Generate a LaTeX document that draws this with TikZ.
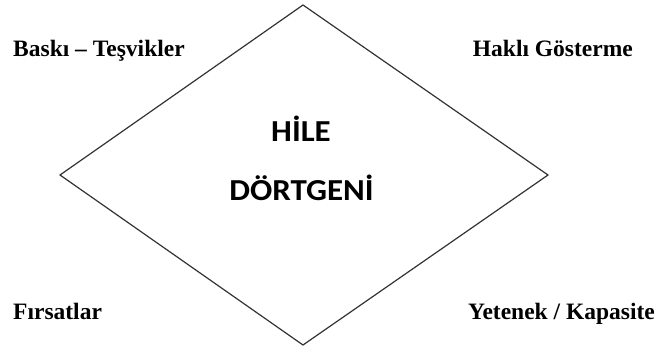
\documentclass[tikz,border=0pt]{standalone}
\usepackage{fontspec}
\setmainfont{Liberation Serif}
\newfontfamily\carlito[FakeStretch=1.08]{Carlito}
\begin{document}
\begin{tikzpicture}[x=1pt,y=1pt,
  corner/.style={inner sep=0pt,font=\fontsize{23.5}{28}\selectfont\bfseries},
  title/.style={inner sep=0pt,font=\carlito\fontsize{30.5}{36}\selectfont\bfseries}]
\useasboundingbox (0,0) rectangle (659,349);
\coordinate (T) at (303,344);
\coordinate (R) at (548,174);
\coordinate (B) at (303,4);
\coordinate (L) at (60,174);
\draw[line width=1.2pt,line join=miter,color=black!80] (T) -- (R) -- (B) -- (L) -- cycle;
\node[title,anchor=base] (h1) at (301,208) {HİLE};
\node[title,anchor=base] (h2) at (301.5,149) {DÖRTGENİ};
\node[corner,anchor=base west] (bt) at (13,292) {Baskı – Teşvikler};
\node[corner,anchor=base east] (hg) at (633,292) {Haklı Gösterme};
\node[corner,anchor=base west] (fr) at (13,30) {Fırsatlar};
\node[corner,anchor=base east] (yk) at (655,30) {Yetenek / Kapasite};
\end{tikzpicture}
\end{document}
